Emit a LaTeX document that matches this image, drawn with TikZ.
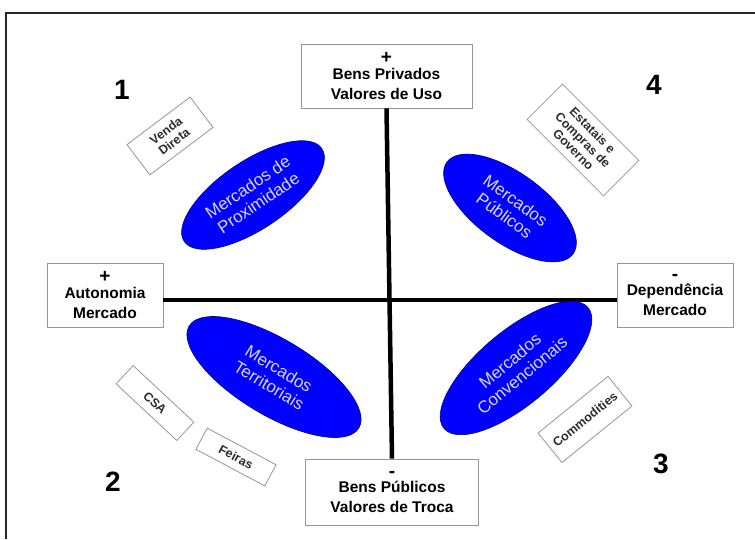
\documentclass[tikz,border=0pt]{standalone}
\usepackage{fontspec}
\setmainfont{Liberation Sans}
\usetikzlibrary{shapes.geometric}
\definecolor{boxline}{RGB}{150,150,150}
\definecolor{elltext}{RGB}{215,215,255}
\definecolor{smalltext}{RGB}{45,45,45}
\newcommand{\sgn}[1]{{\fontsize{19}{19}\selectfont\bfseries #1}}
\tikzset{
  axisbox/.style={draw=boxline, line width=0.9pt, fill=white, align=center, inner sep=0pt,
    font=\fontsize{15.5}{20}\selectfont\bfseries, minimum height=64pt},
  market/.style={ellipse, fill=blue, draw=blue!55!black, line width=0.6pt, align=center, inner sep=0pt,
    text=elltext, font=\fontsize{17}{19}\selectfont},
  tag/.style={draw=boxline, line width=0.8pt, fill=white, align=center, inner sep=0pt,
    text=smalltext, font=\fontsize{12.5}{13.5}\selectfont\bfseries},
  quad/.style={font=\fontsize{28}{28}\selectfont\bfseries},
  axis/.style={line width=4.5pt, black}
}
\begin{document}
\begin{tikzpicture}[x=1pt,y=-1pt]
\useasboundingbox (0,0) rectangle (755,539);
\draw[line width=2.6pt, black!85] (6,539) -- (6,13) -- (755,13);

% axis boxes
\node[axisbox, minimum width=171pt] (top) at (386.5,76) {\sgn{+}\\[-4pt]Bens Privados\\Valores de Uso};
\node[axisbox, minimum width=173pt, minimum height=66pt] (bottom) at (392,492) {\sgn{-}\\[-5pt]Bens Públicos\\Valores de Troca};
\node[axisbox, minimum width=116pt] (left) at (105,295) {\sgn{+}\\[-4pt]Autonomia\\Mercado};
\node[axisbox, minimum width=116pt] (right) at (675,295) {\sgn{-}\\[-5pt]Dependência\\Mercado};

% axes
\draw[axis] (top.south) -- (bottom.north);
\draw[axis] (left.east |- 0,300) -- (right.west |- 0,300);

% markets
\node[market, minimum width=166pt, minimum height=68pt, rotate=34] (prox) at (253,195) {Mercados de\\Proximidade};
\node[market, minimum width=156pt, minimum height=70pt, rotate=-36] (pub) at (510,208) {Mercados\\Públicos};
\node[market, minimum width=198pt, minimum height=76pt, rotate=-31] (terr) at (274,377) {Mercados\\Territoriais};
\node[market, minimum width=188pt, minimum height=74pt, rotate=40] (conv) at (516,368) {Mercados\\Convencionais};

% tags
\node[tag, minimum width=79pt, minimum height=38pt, rotate=37] (venda) at (170,136) {Venda\\Direta};
\node[tag, minimum width=108pt, minimum height=50pt, rotate=-45] (estat) at (583,140) {Estatais e\\Compras de\\Governo};
\node[tag, minimum width=83pt, minimum height=25pt, rotate=-43] (csa) at (155,403) {CSA};
\node[tag, minimum width=78pt, minimum height=24pt, rotate=-28] (feiras) at (236,457) {Feiras};
\node[tag, minimum width=90pt, minimum height=38pt, rotate=39] (commod) at (585,419.5) {Commodities};

% quadrant numbers
\node[quad] (q1) at (122,90) {1};
\node[quad] (q4) at (654,85) {4};
\node[quad] (q2) at (113,482) {2};
\node[quad] (q3) at (661,464) {3};
\end{tikzpicture}
\end{document}
